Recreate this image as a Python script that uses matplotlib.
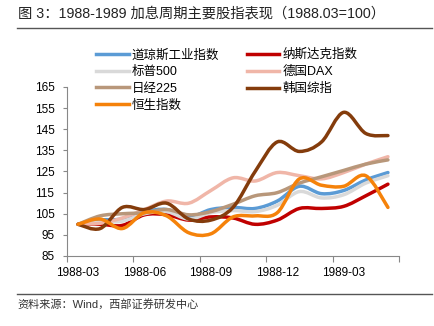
import numpy as np
import matplotlib
matplotlib.use('Agg')
import matplotlib.pyplot as plt
from matplotlib.path import Path
from matplotlib.patches import PathPatch
from matplotlib.lines import Line2D

plt.rcParams['font.family'] = ['Liberation Sans', 'Noto Sans CJK SC']

# monthly index values, 1988-03 .. 1989-05 (1988.03 = 100)
x_labels = ['1988-03', '1988-06', '1988-09', '1988-12', '1989-03']
dow = [100, 102, 102.5, 106, 107, 103.5, 107, 108, 107.5, 111, 118, 114.5, 116, 121, 124.5]
nasdaq = [100, 100, 99.5, 104.5, 104.5, 102, 103.5, 103, 100, 102, 107.5, 107.5, 108.5, 113.5, 119]
sp500 = [100, 101, 101.5, 105, 106, 102.5, 105.5, 106.5, 106, 109, 115.5, 112.5, 114, 119.5, 123]
dax = [100, 100.5, 103, 107, 111, 110, 116, 122, 120.5, 124.5, 123, 121.5, 124.5, 128.5, 132]
nikkei = [100, 104, 105, 105.5, 107, 104.5, 106, 109.5, 113.5, 115, 119.5, 122.5, 125.5, 128.5, 130.5]
kospi = [100, 98, 108, 107, 110, 102.5, 102, 108, 125, 139, 134.5, 139, 153, 143, 142]
hsi = [100, 102.5, 98, 105.5, 104, 96, 95.5, 103.5, 104, 105.5, 121.5, 118.5, 118, 123, 108]

names = ['道琼斯工业指数', '纳斯达克指数', '标普500', '德国DAX', '日经225', '韩国综指', '恒生指数']
series = [dow, nasdaq, sp500, dax, nikkei, kospi, hsi]
colors = ['#5B9BD5', '#C00000', '#D9D9D9', '#F0B6A8', '#B8977A', '#843C0C', '#F5820A']


def smooth_path(xs, ys):
    # excel-like smoothed line: cubic bezier through every point
    pts = np.column_stack([xs, ys]).astype(float)
    verts = [pts[0]]
    codes = [Path.MOVETO]
    n = len(pts)
    for i in range(n - 1):
        p0 = pts[max(i - 1, 0)]
        p1 = pts[i]
        p2 = pts[i + 1]
        p3 = pts[min(i + 2, n - 1)]
        verts += [p1 + (p2 - p0) / 6, p2 - (p3 - p1) / 6, p2]
        codes += [Path.CURVE4] * 3
    return Path(verts, codes)


fig = plt.figure(figsize=(4.35, 3.26), dpi=100)
ax = fig.add_axes([67 / 435, 1 - 256 / 326, 332 / 435, 169 / 326])

x = np.arange(len(dow))
for vals, c in zip(series, colors):
    ax.add_patch(PathPatch(smooth_path(x, vals), fill=False, edgecolor=c,
                           linewidth=2.5, capstyle='round', joinstyle='round'))

ax.set_xlim(-0.5, 14.5)
ax.set_ylim(85, 165)
ax.set_yticks(np.arange(85, 166, 10))
ax.set_xticks([0, 3, 6, 9, 12])
ax.set_xticklabels(x_labels)
ax.set_xticks(np.arange(-0.5, 15, 3), minor=True)
ax.tick_params(axis='x', which='major', length=0, pad=8, labelsize=8.5)
ax.tick_params(axis='x', which='minor', length=4, color='#888888', width=0.8)
ax.tick_params(axis='y', length=3, color='#888888', width=0.8, labelsize=8.5, pad=6)
for s in ['top', 'right']:
    ax.spines[s].set_visible(False)
for s in ['left', 'bottom']:
    ax.spines[s].set_color('#888888')
    ax.spines[s].set_linewidth(0.8)

# legend, filled row-wise
order = [0, 2, 4, 6, 1, 3, 5]
handles = [Line2D([], [], color=colors[i], linewidth=2.5) for i in order]
labels = [names[i] for i in order]
fig.legend(handles, labels, ncol=2, loc='upper left',
           bbox_to_anchor=(96 / 435, 1 - 49 / 326), frameon=False,
           fontsize=9, handlelength=2.6, handletextpad=0.25,
           columnspacing=2.2, labelspacing=0.38, borderpad=0, borderaxespad=0)

fig.text(18 / 435, 1 - 13 / 326, '图 3：1988-1989 加息周期主要股指表现（1988.03=100）',
         fontsize=10.3, va='center', ha='left', color='#222222')
fig.add_artist(Line2D([17 / 435, 432 / 435], [1 - 28 / 326, 1 - 28 / 326],
                      color='#555555', linewidth=1))
fig.add_artist(Line2D([17 / 435, 432 / 435], [1 - 294 / 326, 1 - 294 / 326],
                      color='#555555', linewidth=1))
fig.text(17 / 435, 1 - 304 / 326, '资料来源：Wind，西部证券研发中心',
         fontsize=8, va='center', ha='left', color='#333333')

fig.savefig('out.png', dpi=100)
